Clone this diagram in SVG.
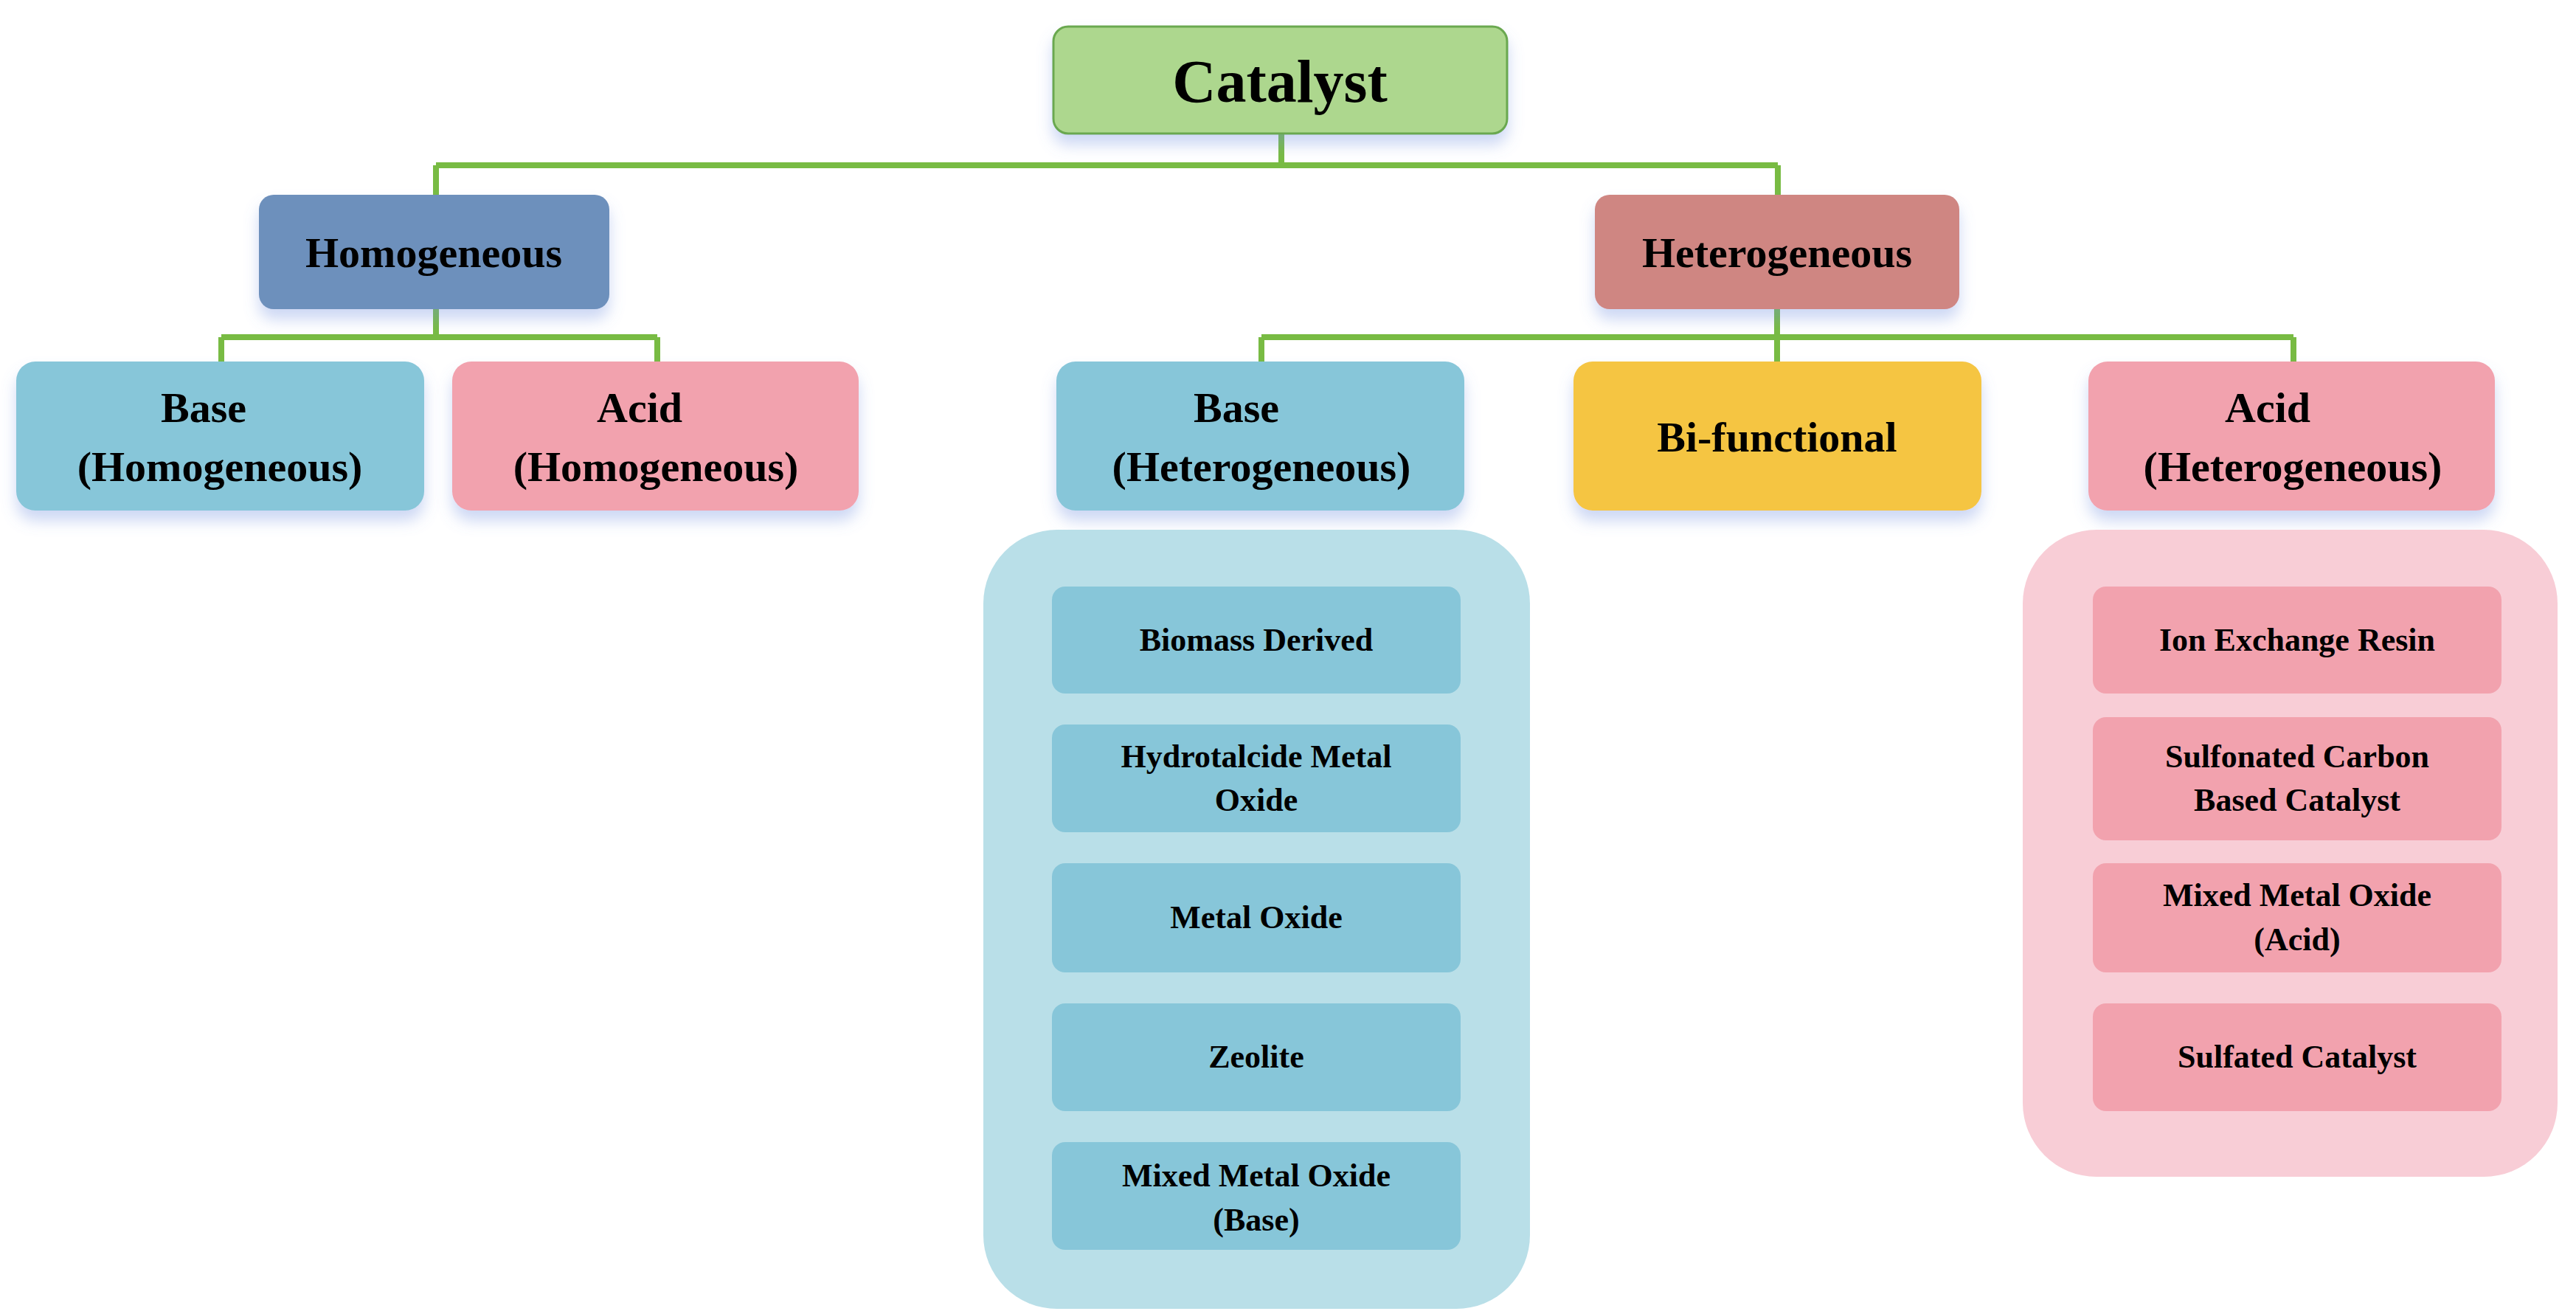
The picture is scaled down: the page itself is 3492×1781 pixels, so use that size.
<svg xmlns="http://www.w3.org/2000/svg" width="3492" height="1781" viewBox="0 0 3492 1781">
<style>
text{font-family:"Liberation Serif","Times New Roman",serif;font-weight:bold;fill:#000;text-anchor:middle}
.big{font-size:82px}.mid{font-size:58px}.sm{font-size:44px}
.c{stroke:#78BB43;stroke-width:8;fill:none}
.base{fill:#87C6D9}.acid{fill:#F2A2AE}
</style>
<defs>
<filter id="sh" x="-10%" y="-10%" width="120%" height="140%">
<feDropShadow dx="0" dy="14" stdDeviation="10" flood-color="#6f8fe0" flood-opacity="0.35"/>
</filter>
</defs>
<rect width="3492" height="1781" fill="#fff"/>
<g id="connectors">
<path class="c" d="M1737 181V224M591 224H2410M591 224V264M2410 224V264"/>
<path class="c" d="M591 419V457M300 457H891M300 457V490M891 457V490"/>
<path class="c" d="M2409 419V457M1710 457H3109M1710 457V490M2409 457V490M3109 457V490"/>
</g>
<g id="catalyst"><rect x="1428" y="36" width="615" height="145" rx="20" fill="#ADD78E" stroke="#6AA84F" stroke-width="3" filter="url(#sh)"/><text class="big" x="1735" y="138">Catalyst</text></g>
<g id="homogeneous"><rect x="351" y="264" width="475" height="155" rx="20" fill="#6D90BC" filter="url(#sh)"/><text class="mid" x="588" y="362">Homogeneous</text></g>
<g id="heterogeneous"><rect x="2162" y="264" width="494" height="155" rx="20" fill="#CF8682" filter="url(#sh)"/><text class="mid" x="2409" y="362">Heterogeneous</text></g>
<g id="base-homo"><rect class="base" x="22" y="490" width="553" height="202" rx="26" filter="url(#sh)"/><text class="mid" x="276" y="572">Base</text><text class="mid" x="298" y="652">(Homogeneous)</text></g>
<g id="acid-homo"><rect class="acid" x="613" y="490" width="551" height="202" rx="26" filter="url(#sh)"/><text class="mid" x="867" y="572">Acid</text><text class="mid" x="889" y="652">(Homogeneous)</text></g>
<g id="base-hetero"><rect class="base" x="1432" y="490" width="553" height="202" rx="26" filter="url(#sh)"/><text class="mid" x="1676" y="572">Base</text><text class="mid" x="1710" y="652">(Heterogeneous)</text></g>
<g id="bifunctional"><rect x="2133" y="490" width="553" height="202" rx="26" fill="#F5C542" filter="url(#sh)"/><text class="mid" x="2409" y="612">Bi-functional</text></g>
<g id="acid-hetero"><rect class="acid" x="2831" y="490" width="551" height="202" rx="26" filter="url(#sh)"/><text class="mid" x="3074" y="572">Acid</text><text class="mid" x="3108" y="652">(Heterogeneous)</text></g>
<g id="base-list">
<rect x="1333" y="718" width="741" height="1056" rx="100" fill="#B9DFE8"/>
<rect class="base" x="1426" y="795" width="554" height="145" rx="18"/><text class="sm" x="1703" y="882">Biomass Derived</text>
<rect class="base" x="1426" y="982" width="554" height="146" rx="18"/><text class="sm" x="1703" y="1040">Hydrotalcide Metal</text><text class="sm" x="1703" y="1099">Oxide</text>
<rect class="base" x="1426" y="1170" width="554" height="148" rx="18"/><text class="sm" x="1703" y="1258">Metal Oxide</text>
<rect class="base" x="1426" y="1360" width="554" height="146" rx="18"/><text class="sm" x="1703" y="1447">Zeolite</text>
<rect class="base" x="1426" y="1548" width="554" height="146" rx="18"/><text class="sm" x="1703" y="1608">Mixed Metal Oxide</text><text class="sm" x="1703" y="1668">(Base)</text>
</g>
<g id="acid-list">
<rect x="2742" y="718" width="725" height="877" rx="100" fill="#F8CDD6"/>
<rect class="acid" x="2837" y="795" width="554" height="145" rx="18"/><text class="sm" x="3114" y="882">Ion Exchange Resin</text>
<rect class="acid" x="2837" y="972" width="554" height="167" rx="18"/><text class="sm" x="3114" y="1040">Sulfonated Carbon</text><text class="sm" x="3114" y="1099">Based Catalyst</text>
<rect class="acid" x="2837" y="1170" width="554" height="148" rx="18"/><text class="sm" x="3114" y="1228">Mixed Metal Oxide</text><text class="sm" x="3114" y="1288">(Acid)</text>
<rect class="acid" x="2837" y="1360" width="554" height="146" rx="18"/><text class="sm" x="3114" y="1447">Sulfated Catalyst</text>
</g>
</svg>
